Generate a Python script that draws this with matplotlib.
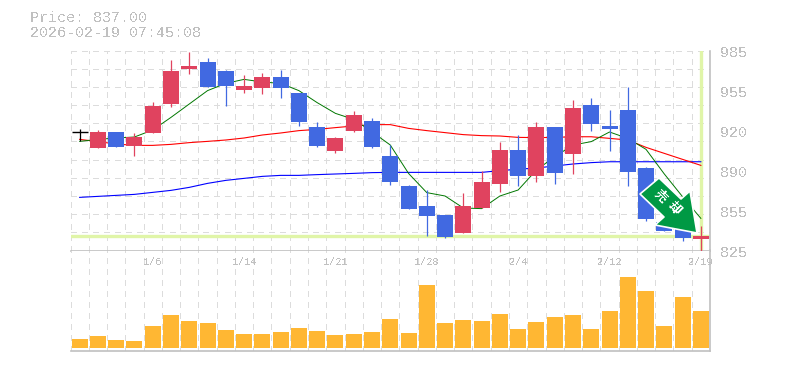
#!/usr/bin/env python3
"""
Candlestick chart with moving averages and volume
"""

import matplotlib
matplotlib.use('Agg')
import matplotlib.pyplot as plt
from matplotlib.patches import Polygon
import numpy as np

plt.rcParams['text.antialiased'] = False

opens = [919.5, 907.0, 919.8, 908.6, 919.0, 942.2, 970.6, 975.8, 968.6, 953.8, 955.0, 963.8,
         951.0, 923.8, 904.6, 920.6, 928.6, 900.6, 876.6, 860.6, 853.4, 839.0, 859.0, 878.2,
         905.4, 884.6, 923.8, 902.2, 941.4, 925.0, 937.4, 891.0, 847.8, 843.8, 834.6]
closes = [919.5, 919.8, 907.8, 915.8, 940.6, 968.6, 973.0, 955.8, 956.6, 956.2, 963.8, 955.0,
          927.8, 908.6, 915.0, 933.4, 907.8, 879.8, 858.2, 852.6, 835.8, 860.6, 879.8, 905.4,
          884.6, 923.8, 887.0, 939.0, 926.2, 922.2, 887.8, 850.2, 840.6, 835.0, 837.0]
highs = [921.9, 921.4, 919.8, 919.0, 943.8, 977.4, 983.8, 979.0, 969.4, 965.4, 967.0, 969.4,
         951.0, 927.8, 915.8, 936.6, 931.0, 909.4, 877.4, 873.4, 853.4, 871.0, 888.6, 911.8,
         917.4, 927.8, 923.8, 945.4, 947.0, 937.4, 955.8, 891.8, 847.8, 843.8, 844.6]
lows = [912.3, 907.0, 907.8, 900.6, 919.0, 939.8, 966.2, 955.8, 940.6, 951.0, 950.2, 947.0,
        924.6, 907.8, 903.0, 919.8, 907.0, 877.4, 858.2, 836.6, 835.0, 839.0, 859.0, 871.8,
        876.6, 879.8, 878.2, 886.2, 920.6, 904.6, 876.6, 848.6, 840.6, 832.6, 825.0]

ma_short = [912.3, 913.9, 915.0, 915.8, 921.4, 931.5, 942.2, 952.9, 958.7, 961.9, 959.8, 958.7,
            952.9, 943.3, 934.7, 929.9, 920.0, 909.4, 886.7, 871.3, 868.6, 859.0, 858.5, 868.6,
            873.4, 889.4, 900.0, 909.4, 912.1, 919.8, 914.7, 905.9, 886.2, 868.0, 850.7]
ma_mid = [913.9, 912.1, 910.2, 909.1, 909.1, 909.9, 911.3, 912.3, 913.4, 915.0, 917.4, 919.0,
          920.9, 921.9, 923.3, 924.6, 925.7, 925.7, 922.7, 920.9, 919.3, 917.7, 916.9, 916.6,
          915.5, 915.3, 915.5, 916.0, 916.0, 914.7, 913.4, 907.5, 902.7, 897.9, 893.1]
ma_long = [867.5, 868.3, 869.1, 869.9, 871.5, 873.1, 875.5, 878.7, 881.1, 882.7, 884.3, 885.1,
           885.1, 885.7, 886.2, 886.7, 887.3, 887.5, 887.5, 887.5, 887.5, 887.5, 887.5, 888.9,
           890.0, 891.0, 892.6, 894.2, 895.3, 896.0, 896.0, 896.0, 896.0, 896.0, 896.0]

volumes = [9, 12, 8, 7, 22, 33, 27, 25, 18, 14, 14, 16, 20, 17, 13, 14, 16, 29,
           15, 63, 25, 28, 27, 34, 19, 26, 31, 33, 19, 37, 71, 57, 22, 51, 37]

date_pos = [4, 9, 14, 19, 24, 29, 34]
date_labels = ['1/6', '1/14', '1/21', '1/28', '2/4', '2/12', '2/19']

price_ticks = [825, 857, 889, 921, 953, 985]
price_labels = ['825', '855', '890', '920', '955', '985']

last_price = 837.0
title_lines = ['Price: 837.00', '2026-02-19 07:45:08']

RED = '#E0435F'
BLUE = '#4169E1'
GREY = '#C0C0C0'
GRID = '#DCDCDC'
LIME = '#E0F5A8'
MONO = 'Liberation Mono'

W, H = 785, 370
fig = plt.figure(figsize=(W / 100, H / 100), dpi=100, facecolor='white')
ax = fig.add_axes([70.5 / W, (H - 250.5) / H, 639.5 / W, 200 / H])
axv = fig.add_axes([70.5 / W, (H - 350.5) / H, 639.5 / W, 100 / H])

n = len(closes)
x = np.arange(n)
edges = np.arange(n + 1) - 0.5

for a in (ax, axv):
    a.set_xlim(-0.5, n - 0.5)
    a.set_xticks(edges)
    a.tick_params(length=0, labelbottom=False, labelleft=False)
    a.grid(axis='x', color=GRID, linestyle=(0, (4, 4)), linewidth=0.9, antialiased=False)
    a.set_axisbelow(True)
    for s in ('top', 'left'):
        a.spines[s].set_visible(False)
    for s in ('right', 'bottom'):
        a.spines[s].set_color(GREY)
        a.spines[s].set_linewidth(1.2)

# Price panel
ax.set_ylim(825, 985)
ax.set_yticks(np.linspace(825, 985, 12))
ax.grid(axis='y', color=GRID, linestyle=(0, (4, 4)), linewidth=0.9, antialiased=False)

ax.axhline(last_price, color=LIME, linewidth=2.4, zorder=1)
ax.axvline(x[-1], color=LIME, linewidth=2.4, zorder=1)

ax.plot(x, ma_long, color='#0000FF', linewidth=0.8, zorder=2)
ax.plot(x, ma_mid, color='#FF0000', linewidth=0.8, zorder=2)
ax.plot(x, ma_short, color='#007700', linewidth=0.7, zorder=2)

bar_w = 16 / (639.5 / n)
for i in x:
    o, c = opens[i], closes[i]
    if o == c:
        col = 'black'
        ax.hlines(c, i - bar_w / 2, i + bar_w / 2, color=col, linewidth=1.0, zorder=3)
    else:
        col = RED if c > o else BLUE
        ax.bar(i, abs(c - o), bottom=min(o, c), width=bar_w, color=col, linewidth=0, zorder=3)
    ax.vlines(i, lows[i], highs[i], color=col, linewidth=0.9, zorder=3)

for p, lab in zip(price_ticks, price_labels):
    ax.annotate(lab, xy=(1, p), xycoords=ax.get_yaxis_transform(), xytext=(7.5, -2),
                textcoords='offset points', ha='left', va='center', fontsize=10.8,
                family=MONO, color=GREY, annotation_clip=False)

# Volume panel
axv.set_ylim(-2.5, 97.5)
axv.set_yticks([])
axv.bar(x, volumes, width=bar_w, color='#FFB733', linewidth=0, zorder=3)
for i, lab in zip(date_pos, date_labels):
    axv.annotate(lab, xy=(i, 1), xycoords=axv.get_xaxis_transform(), xytext=(0, -8.5),
                 textcoords='offset points', ha='center', va='center', fontsize=7.4,
                 family=MONO, color=GREY, annotation_clip=False)

# Overlay in pixel coordinates for header and signal arrow
ov = fig.add_axes([0, 0, 1, 1], zorder=10)
ov.set_xlim(0, W)
ov.set_ylim(H, 0)
ov.axis('off')
ov.patch.set_alpha(0)

ov.text(30, 18, title_lines[0], ha='left', va='center', fontsize=10.8, family=MONO, color=GREY)
ov.text(30, 33, title_lines[1], ha='left', va='center', fontsize=10.8, family=MONO, color=GREY)

arrow = [(659, 178), (640, 194), (664, 217), (655, 225), (697, 233),
         (690, 191), (681, 199)]
ov.add_patch(Polygon(arrow, closed=True, facecolor='#009944', edgecolor='white',
                     linewidth=1.2, joinstyle='round', zorder=5))
ov.text(660, 196, '売', rotation=-45, rotation_mode='anchor', ha='center', va='center',
        fontsize=9, fontweight='bold', color='white', family='Noto Sans CJK JP', zorder=6)
ov.text(674, 208, '却', rotation=-45, rotation_mode='anchor', ha='center', va='center',
        fontsize=9, fontweight='bold', color='white', family='Noto Sans CJK JP', zorder=6)

fig.savefig('out.png', dpi=100, facecolor='white')
plt.close(fig)
